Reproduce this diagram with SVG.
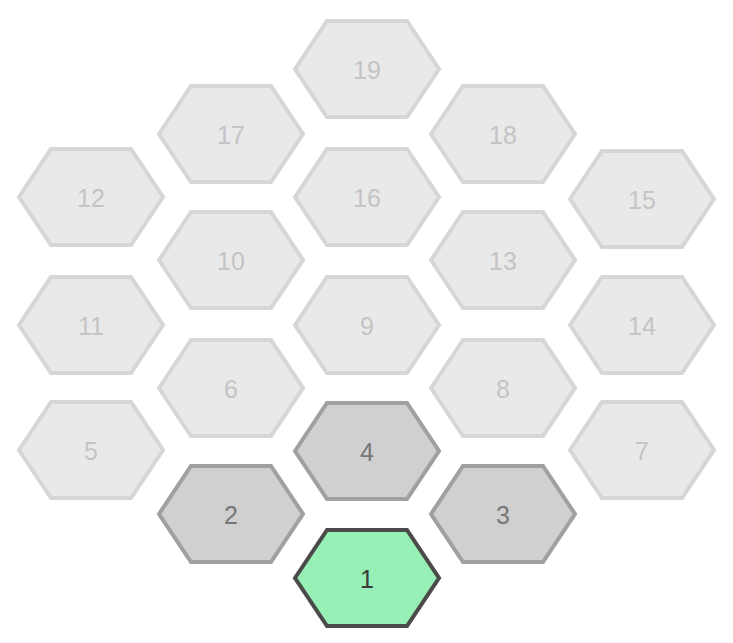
<svg xmlns="http://www.w3.org/2000/svg" width="733" height="643" viewBox="0 0 733 643">
<defs>
<style>
.h use{fill:#e9e9e9;stroke:#d6d6d6;stroke-width:4;stroke-linejoin:miter}
.h text{font-family:"Liberation Sans",Arial,sans-serif;font-size:25px;fill:#c4c4c4;text-anchor:middle;dominant-baseline:central}
.g use{fill:#d0d0d0;stroke:#a0a0a0}
.g text{fill:#777777}
.s use{fill:#96f0b6;stroke:#4a4a4a}
.s text{fill:#3a3a3a}
</style>
<polygon id="hex" points="-72,0 -40,-48 40,-48 72,0 40,48 -40,48"/>
</defs>
<rect width="733" height="643" fill="#ffffff"/>
<g id="connectors"/>
<g id="n19" class="h" transform="translate(367,69)"><use href="#hex"/><text x="0" y="1">19</text></g>
<g id="n17" class="h" transform="translate(231,134)"><use href="#hex"/><text x="0" y="1">17</text></g>
<g id="n18" class="h" transform="translate(503,134)"><use href="#hex"/><text x="0" y="1">18</text></g>
<g id="n12" class="h" transform="translate(91,197)"><use href="#hex"/><text x="0" y="1">12</text></g>
<g id="n16" class="h" transform="translate(367,197)"><use href="#hex"/><text x="0" y="1">16</text></g>
<g id="n15" class="h" transform="translate(642,199)"><use href="#hex"/><text x="0" y="1">15</text></g>
<g id="n10" class="h" transform="translate(231,260)"><use href="#hex"/><text x="0" y="1">10</text></g>
<g id="n13" class="h" transform="translate(503,260)"><use href="#hex"/><text x="0" y="1">13</text></g>
<g id="n11" class="h" transform="translate(91,325)"><use href="#hex"/><text x="0" y="1">11</text></g>
<g id="n9" class="h" transform="translate(367,325)"><use href="#hex"/><text x="0" y="1">9</text></g>
<g id="n14" class="h" transform="translate(642,325)"><use href="#hex"/><text x="0" y="1">14</text></g>
<g id="n6" class="h" transform="translate(231,388)"><use href="#hex"/><text x="0" y="1">6</text></g>
<g id="n8" class="h" transform="translate(503,388)"><use href="#hex"/><text x="0" y="1">8</text></g>
<g id="n5" class="h" transform="translate(91,450)"><use href="#hex"/><text x="0" y="1">5</text></g>
<g id="n4" class="h g" transform="translate(367,451)"><use href="#hex"/><text x="0" y="1">4</text></g>
<g id="n7" class="h" transform="translate(642,450)"><use href="#hex"/><text x="0" y="1">7</text></g>
<g id="n2" class="h g" transform="translate(231,514)"><use href="#hex"/><text x="0" y="1">2</text></g>
<g id="n3" class="h g" transform="translate(503,514)"><use href="#hex"/><text x="0" y="1">3</text></g>
<g id="n1" class="h s" transform="translate(367,578)"><use href="#hex"/><text x="0" y="1">1</text></g>
</svg>
